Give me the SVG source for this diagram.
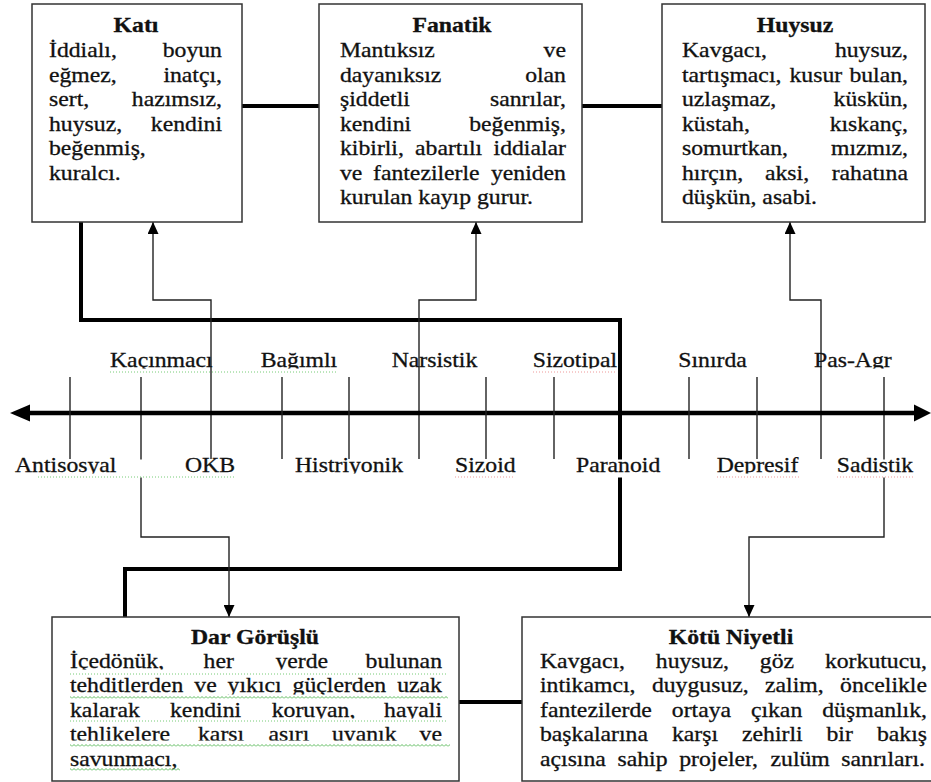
<svg xmlns="http://www.w3.org/2000/svg" width="931" height="782" viewBox="0 0 931 782">
<defs>
<style>
.box{fill:#fff;stroke:#333;stroke-width:1.5}
.t{font-family:"Liberation Serif","Times New Roman",serif;font-size:21px;fill:#111;stroke:#111;stroke-width:0.3}
.b{font-weight:bold}
.e{text-anchor:end}
.m{text-anchor:middle}
.thick{fill:none;stroke:#000;stroke-width:4}
.thin{fill:none;stroke:#222;stroke-width:1.4}
.tick{stroke:#222;stroke-width:1.4}
.dotg{stroke:#7c7;stroke-width:1;stroke-dasharray:1 2}
.dotr{stroke:#e99;stroke-width:1;stroke-dasharray:1 2}
</style>
<marker id="arrow" viewBox="0 0 12 11" refX="12" refY="5.5" markerWidth="12" markerHeight="11" markerUnits="userSpaceOnUse" orient="auto">
<path d="M0,0 L12,5.5 L0,11 Z" fill="#000"/>
</marker>
<pattern id="wavy" width="4" height="3" patternUnits="userSpaceOnUse">
<path d="M0,2.5 L2,0.5 L4,2.5" fill="none" stroke="#3a3" stroke-width="0.8"/>
</pattern>
<clipPath id="clipTop"><rect x="0" y="330" width="931" height="38.5"/></clipPath>
<clipPath id="clipBot"><rect x="0" y="440" width="931" height="33.5"/></clipPath>
<clipPath id="cl1"><rect x="0" y="600" width="931" height="69.5"/></clipPath>
<clipPath id="cl2"><rect x="0" y="600" width="931" height="94.5"/></clipPath>
<clipPath id="cl3"><rect x="0" y="600" width="931" height="118.5"/></clipPath>
<clipPath id="cl4"><rect x="0" y="600" width="931" height="140.5"/></clipPath>
</defs>

<rect width="931" height="782" fill="#fff"/>

<!-- connectors -->
<g id="connectors">
<path class="thick" d="M242,106 H319"/>
<path class="thick" d="M582,106 H662"/>
<path class="thick" d="M459,702 H522"/>
<path class="thick" d="M81,222 V320 H620 V569 H125 V617"/>
<path class="thin" d="M211,459 V300 H153 V222" marker-end="url(#arrow)"/>
<path class="thin" d="M419,459 V300 H476 V222" marker-end="url(#arrow)"/>
<path class="thin" d="M821,459 V300 H790 V222" marker-end="url(#arrow)"/>
<path class="thin" d="M141,377 V537 H229 V617" marker-end="url(#arrow)"/>
<path class="thin" d="M884,377 V537 H749 V617" marker-end="url(#arrow)"/>
</g>

<!-- personality axis -->
<g id="axis">
<line x1="28" y1="413" x2="917" y2="413" stroke="#000" stroke-width="4.5"/>
<polygon points="10,413 30,404.5 30,421.5" fill="#000"/>
<polygon points="931,413 914,404.5 914,421.5" fill="#000"/>
<line class="tick" x1="70" y1="377" x2="70" y2="459"/>
<line class="tick" x1="282" y1="377" x2="282" y2="459"/>
<line class="tick" x1="349" y1="377" x2="349" y2="459"/>
<line class="tick" x1="486" y1="377" x2="486" y2="459"/>
<line class="tick" x1="554" y1="377" x2="554" y2="459"/>
<line class="tick" x1="689" y1="377" x2="689" y2="459"/>
<line class="tick" x1="757" y1="377" x2="757" y2="459"/>
<!-- label band below the axis hides the lines passing through it -->
<rect x="0" y="459.5" width="931" height="18" fill="#fff"/>
<g class="t" clip-path="url(#clipTop)">
<g transform="scale(1.13 1)">
<text x="97.35" y="367">Kaçınmacı</text>
<text x="230.71" y="367">Bağımlı</text>
<text x="346.64" y="367">Narsistik</text>
<text x="471.42" y="367">Sizotipal</text>
<text x="600.27" y="367">Sınırda</text>
<text x="720.35" y="367">Pas-Agr</text>
</g>
</g>
<g class="t" clip-path="url(#clipBot)">
<g transform="scale(1.13 1)">
<text x="13.27" y="472.5">Antisosyal</text>
<text x="163.72" y="472.5">OKB</text>
<text x="261.06" y="472.5">Histriyonik</text>
<text x="402.65" y="472.5">Sizoid</text>
<text x="509.73" y="472.5">Paranoid</text>
<text x="634.25" y="472.5">Depresif</text>
<text x="740.44" y="472.5">Sadistik</text>
</g>
</g>
<line class="dotg" x1="110" y1="372" x2="338" y2="372"/>
<line class="dotr" x1="533" y1="372" x2="617" y2="372"/>
<line class="dotg" x1="38" y1="477" x2="235" y2="477"/>
<line class="dotr" x1="455" y1="477" x2="515" y2="477"/>
<line class="dotr" x1="717" y1="477" x2="800" y2="477"/>
<line class="dotr" x1="837" y1="477" x2="913" y2="477"/>
</g>

<g id="kati">
<rect class="box" x="32" y="4" width="210" height="218"/>
<g class="t" transform="scale(1.13 1)">
<text class="b m" x="120.35" y="32">Katı</text>
<text x="43.36" y="57.5">İddialı,</text><text class="e" x="196.46" y="57.5">boyun</text>
<text x="43.36" y="82">eğmez,</text><text class="e" x="196.46" y="82">inatçı,</text>
<text x="43.36" y="106.5">sert,</text><text class="e" x="196.46" y="106.5">hazımsız,</text>
<text x="43.36" y="131">huysuz,</text><text class="e" x="196.46" y="131">kendini</text>
<text x="43.36" y="155.5">beğenmiş,</text>
<text x="43.36" y="180">kuralcı.</text>
</g>
</g>

<g id="fanatik">
<rect class="box" x="319" y="4" width="263" height="218"/>
<g class="t" transform="scale(1.13 1)">
<text class="b m" x="400" y="32">Fanatik</text>
<text x="300.88" y="57.5">Mantıksız</text><text class="e" x="500.88" y="57.5">ve</text>
<text x="300.88" y="82">dayanıksız</text><text class="e" x="500.88" y="82">olan</text>
<text x="300.88" y="106.5">şiddetli</text><text class="e" x="500.88" y="106.5">sanrılar,</text>
<text x="300.88" y="131">kendini</text><text class="e" x="500.88" y="131">beğenmiş,</text>
<text y="155.5"><tspan x="300.88">kibirli,</tspan><tspan x="367.26">abartılı</tspan></text><text class="e" x="500.88" y="155.5">iddialar</text>
<text y="180"><tspan x="300.88">ve</tspan><tspan x="330.09">fantezilerle</tspan></text><text class="e" x="500.88" y="180">yeniden</text>
<text x="300.88" y="204.5">kurulan kayıp gurur.</text>
</g>
</g>

<g id="huysuz">
<rect class="box" x="662" y="4" width="263" height="218"/>
<g class="t" transform="scale(1.13 1)">
<text class="b m" x="703.54" y="32">Huysuz</text>
<text x="603.54" y="57.5">Kavgacı,</text><text class="e" x="803.54" y="57.5">huysuz,</text>
<text y="82"><tspan x="603.54">tartışmacı,</tspan><tspan x="698.67">kusur</tspan></text><text class="e" x="803.54" y="82">bulan,</text>
<text x="603.54" y="106.5">uzlaşmaz,</text><text class="e" x="803.54" y="106.5">küskün,</text>
<text x="603.54" y="131">küstah,</text><text class="e" x="803.54" y="131">kıskanç,</text>
<text x="603.54" y="155.5">somurtkan,</text><text class="e" x="803.54" y="155.5">mızmız,</text>
<text y="180"><tspan x="603.54">hırçın,</tspan><tspan x="676.99">aksi,</tspan></text><text class="e" x="803.54" y="180">rahatına</text>
<text x="603.54" y="204.5">düşkün, asabi.</text>
</g>
</g>

<g id="dar-gorusu">
<rect class="box" x="52" y="617" width="407" height="164"/>
<g class="t">
<g transform="scale(1.13 1)">
<text class="b m" x="225.66" y="644">Dar Görüşlü</text>
</g>
<g clip-path="url(#cl1)"><g transform="scale(1.13 1)">
<text y="668"><tspan x="61.95">İçedönük,</tspan><tspan x="180.18">her</tspan><tspan x="243.8">yerde</tspan></text><text class="e" x="391.15" y="668">bulunan</text>
</g></g>
<g clip-path="url(#cl2)"><g transform="scale(1.13 1)">
<text y="692.5"><tspan x="61.95">tehditlerden</tspan><tspan x="171.95">ve</tspan><tspan x="201.42">yıkıcı</tspan><tspan x="258.94">güçlerden</tspan></text><text class="e" x="391.15" y="692.5">uzak</text>
</g></g>
<g clip-path="url(#cl3)"><g transform="scale(1.13 1)">
<text y="717"><tspan x="61.95">kalarak</tspan><tspan x="150.44">kendini</tspan><tspan x="240.44">koruyan,</tspan></text><text class="e" x="391.15" y="717">hayali</text>
</g></g>
<g clip-path="url(#cl4)"><g transform="scale(1.13 1)">
<text y="741.5"><tspan x="61.95">tehlikelere</tspan><tspan x="175.22">karşı</tspan><tspan x="237.61">aşırı</tspan><tspan x="293.81">uyanık</tspan></text><text class="e" x="391.15" y="741.5">ve</text>
</g></g>
<g transform="scale(1.13 1)">
<text x="61.95" y="766">savunmacı,</text>
</g>
</g>
<!-- proofing marks under the paragraph -->
<line class="dotg" x1="70" y1="674" x2="446" y2="674"/>
<rect x="70" y="696" width="378" height="3" fill="url(#wavy)"/>
<line class="dotg" x1="70" y1="721" x2="446" y2="721"/>
<rect x="70" y="744" width="380" height="3" fill="url(#wavy)"/>
<rect x="70" y="768" width="110" height="3" fill="url(#wavy)"/>
</g>

<g id="kotu-niyetli">
<rect class="box" x="522" y="617" width="420" height="164"/>
<g class="t" transform="scale(1.13 1)">
<text class="b m" x="646.9" y="644">Kötü Niyetli</text>
<text y="668"><tspan x="477.88">Kavgacı,</tspan><tspan x="580.35">huysuz,</tspan><tspan x="672.39">göz</tspan></text><text class="e" x="820.35" y="668">korkutucu,</text>
<text y="692.5"><tspan x="477.88">intikamcı,</tspan><tspan x="576.9">duygusuz,</tspan><tspan x="677">zalim,</tspan></text><text class="e" x="820.35" y="692.5">öncelikle</text>
<text y="717"><tspan x="477.88">fantezilerde</tspan><tspan x="594.51">ortaya</tspan><tspan x="664.51">çıkan</tspan></text><text class="e" x="820.35" y="717">düşmanlık,</text>
<text y="741.5"><tspan x="477.88">başkalarına</tspan><tspan x="594.69">karşı</tspan><tspan x="656.64">zehirli</tspan><tspan x="731.42">bir</tspan></text><text class="e" x="820.35" y="741.5">bakış</text>
<text y="766"><tspan x="477.88">açısına</tspan><tspan x="546.46">sahip</tspan><tspan x="601.06">projeler,</tspan><tspan x="681.86">zulüm</tspan></text><text class="e" x="818.58" y="766">sanrıları.</text>
</g>
</g>
</svg>
